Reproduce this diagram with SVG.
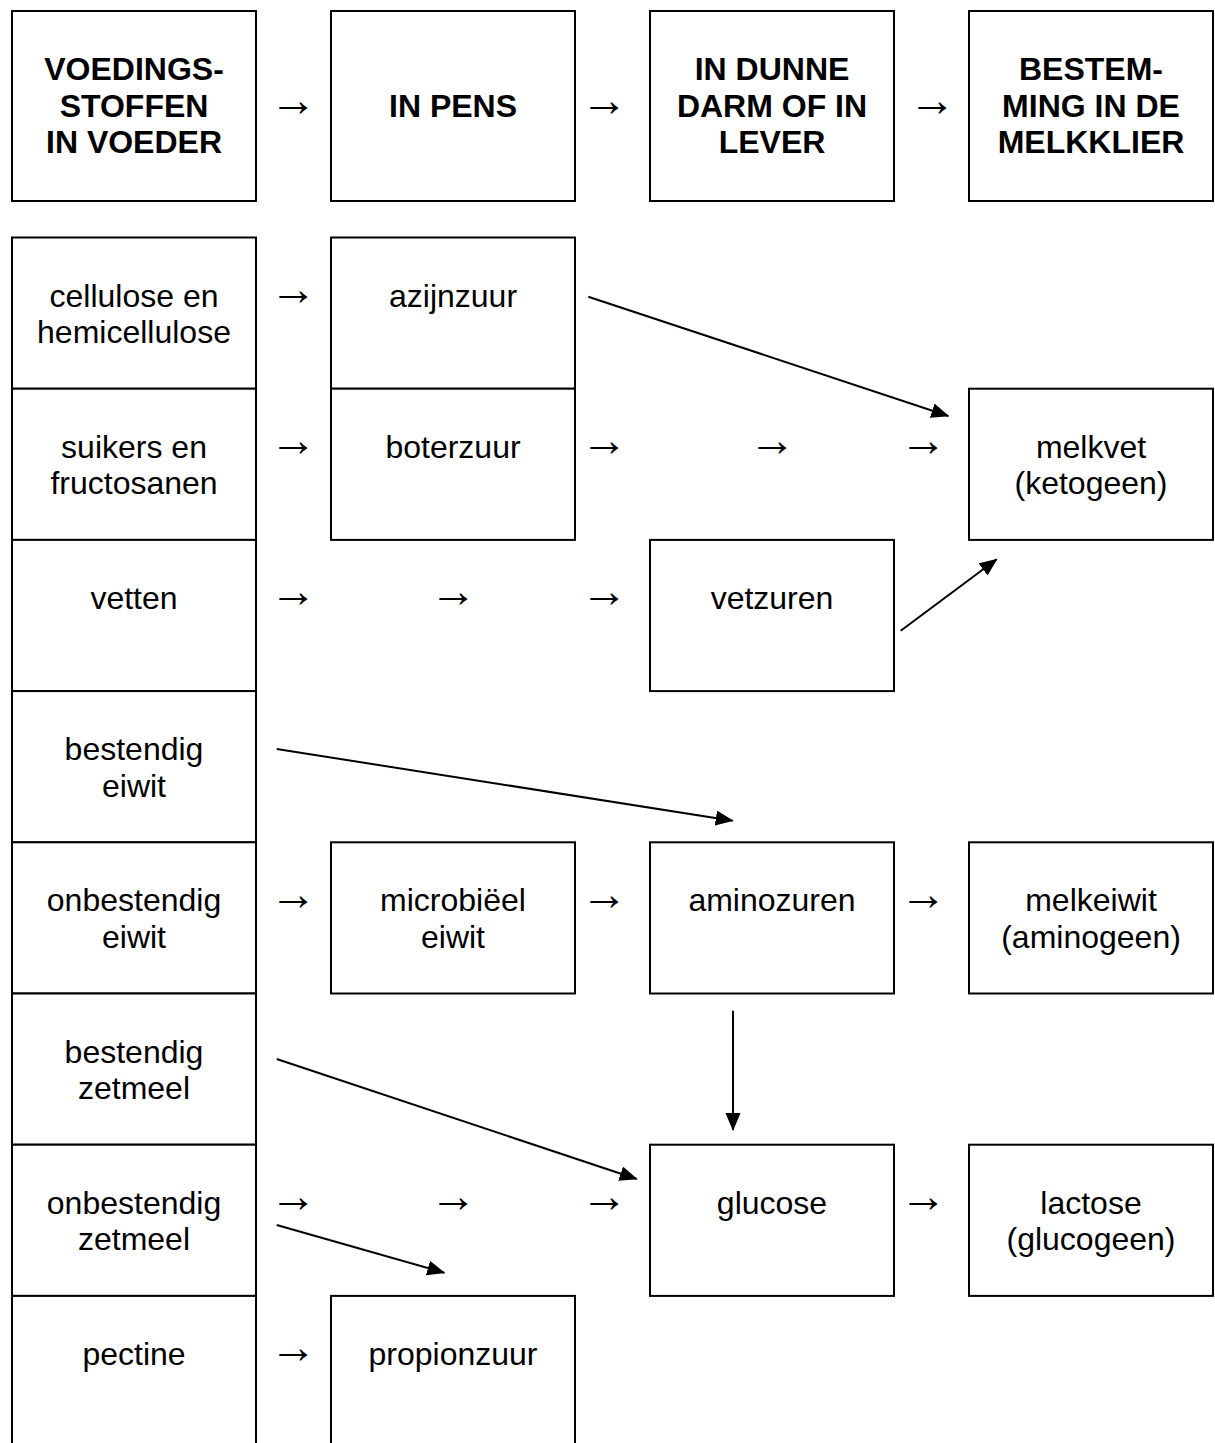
<svg xmlns="http://www.w3.org/2000/svg" width="1215" height="1443" viewBox="0 0 1215 1443">
<style>
.box{fill:#fff;stroke:#000;stroke-width:2}
.t{font-family:"Liberation Sans",Arial,sans-serif;font-size:32px;fill:#000;text-anchor:middle}
.h{font-weight:bold}
.ar{font-family:"Liberation Serif","Times New Roman",serif;font-size:47px;fill:#000;text-anchor:middle}
.con{stroke:#000;stroke-width:2;fill:none;marker-end:url(#head)}
</style>
<defs>
<marker id="head" markerUnits="userSpaceOnUse" markerWidth="19" markerHeight="16" refX="17" refY="7.5" orient="auto">
<path d="M0,0 L18,7.5 L0,15 z" fill="#000"/>
</marker>
</defs>
<rect width="1215" height="1443" fill="#fff"/>

<g id="header">
<g id="h1"><rect class="box" x="12" y="11" width="244" height="190"/>
<text class="t h" x="134" y="80">VOEDINGS-</text><text class="t h" x="134" y="116.5">STOFFEN</text><text class="t h" x="134" y="153">IN VOEDER</text></g>
<g id="h2"><rect class="box" x="331" y="11" width="244" height="190"/>
<text class="t h" x="453" y="116.5">IN PENS</text></g>
<g id="h3"><rect class="box" x="650" y="11" width="244" height="190"/>
<text class="t h" x="772" y="80">IN DUNNE</text><text class="t h" x="772" y="116.5">DARM OF IN</text><text class="t h" x="772" y="153">LEVER</text></g>
<g id="h4"><rect class="box" x="969" y="11" width="244" height="190"/>
<text class="t h" x="1091" y="80">BESTEM-</text><text class="t h" x="1091" y="116.5">MING IN DE</text><text class="t h" x="1091" y="153">MELKKLIER</text></g>
<text class="ar" x="293" y="115.6">→</text><text class="ar" x="604" y="115.6">→</text><text class="ar" x="932" y="115.6">→</text>
</g>

<g id="n-cellulose"><rect class="box" x="12" y="237.5" width="244" height="151.2"/>
<text class="t" x="134" y="306.5">cellulose en</text><text class="t" x="134" y="343.2">hemicellulose</text></g>
<g id="n-suikers"><rect class="box" x="12" y="388.7" width="244" height="151.2"/>
<text class="t" x="134" y="457.7">suikers en</text><text class="t" x="134" y="494.4">fructosanen</text></g>
<g id="n-vetten"><rect class="box" x="12" y="539.9" width="244" height="151.2"/>
<text class="t" x="134" y="608.9">vetten</text></g>
<g id="n-bestendig-eiwit"><rect class="box" x="12" y="691.1" width="244" height="151.2"/>
<text class="t" x="134" y="760.1">bestendig</text><text class="t" x="134" y="796.8">eiwit</text></g>
<g id="n-onbestendig-eiwit"><rect class="box" x="12" y="842.3" width="244" height="151.2"/>
<text class="t" x="134" y="911.3">onbestendig</text><text class="t" x="134" y="948">eiwit</text></g>
<g id="n-bestendig-zetmeel"><rect class="box" x="12" y="993.5" width="244" height="151.2"/>
<text class="t" x="134" y="1062.5">bestendig</text><text class="t" x="134" y="1099.2">zetmeel</text></g>
<g id="n-onbestendig-zetmeel"><rect class="box" x="12" y="1144.7" width="244" height="151.2"/>
<text class="t" x="134" y="1213.7">onbestendig</text><text class="t" x="134" y="1250.4">zetmeel</text></g>
<g id="n-pectine"><rect class="box" x="12" y="1295.9" width="244" height="170"/>
<text class="t" x="134" y="1364.9">pectine</text></g>

<g id="n-azijnzuur"><rect class="box" x="331" y="237.5" width="244" height="151.2"/>
<text class="t" x="453" y="306.5">azijnzuur</text></g>
<g id="n-boterzuur"><rect class="box" x="331" y="388.7" width="244" height="151.2"/>
<text class="t" x="453" y="457.7">boterzuur</text></g>
<g id="n-microbieel"><rect class="box" x="331" y="842.3" width="244" height="151.2"/>
<text class="t" x="453" y="911.3">microbiëel</text><text class="t" x="453" y="948">eiwit</text></g>
<g id="n-propionzuur"><rect class="box" x="331" y="1295.9" width="244" height="170"/>
<text class="t" x="453" y="1364.9">propionzuur</text></g>

<g id="n-vetzuren"><rect class="box" x="650" y="539.9" width="244" height="151.2"/>
<text class="t" x="772" y="608.9">vetzuren</text></g>
<g id="n-aminozuren"><rect class="box" x="650" y="842.3" width="244" height="151.2"/>
<text class="t" x="772" y="911.3">aminozuren</text></g>
<g id="n-glucose"><rect class="box" x="650" y="1144.7" width="244" height="151.2"/>
<text class="t" x="772" y="1213.7">glucose</text></g>

<g id="n-melkvet"><rect class="box" x="969" y="388.7" width="244" height="151.2"/>
<text class="t" x="1091" y="457.7">melkvet</text><text class="t" x="1091" y="494.4">(ketogeen)</text></g>
<g id="n-melkeiwit"><rect class="box" x="969" y="842.3" width="244" height="151.2"/>
<text class="t" x="1091" y="911.3">melkeiwit</text><text class="t" x="1091" y="948">(aminogeen)</text></g>
<g id="n-lactose"><rect class="box" x="969" y="1144.7" width="244" height="151.2"/>
<text class="t" x="1091" y="1213.7">lactose</text><text class="t" x="1091" y="1250.4">(glucogeen)</text></g>

<g id="row-arrows">
<text class="ar" x="293" y="305">→</text>
<text class="ar" x="293" y="456.2">→</text><text class="ar" x="604" y="456.2">→</text><text class="ar" x="772" y="456.2">→</text><text class="ar" x="923" y="456.2">→</text>
<text class="ar" x="293" y="607.4">→</text><text class="ar" x="453" y="607.4">→</text><text class="ar" x="604" y="607.4">→</text>
<text class="ar" x="293" y="909.8">→</text><text class="ar" x="604" y="909.8">→</text><text class="ar" x="923" y="909.8">→</text>
<text class="ar" x="293" y="1212.2">→</text><text class="ar" x="453" y="1212.2">→</text><text class="ar" x="604" y="1212.2">→</text><text class="ar" x="923" y="1212.2">→</text>
<text class="ar" x="293" y="1363.4">→</text>
</g>

<g id="connectors">
<line class="con" x1="588.3" y1="296.7" x2="948.3" y2="416"/>
<line class="con" x1="900.7" y1="630.7" x2="996.7" y2="559.3"/>
<line class="con" x1="276.7" y1="749" x2="732.7" y2="820.7"/>
<line class="con" x1="733" y1="1010.7" x2="733" y2="1130"/>
<line class="con" x1="276.7" y1="1059" x2="636.7" y2="1179"/>
<line class="con" x1="276.7" y1="1225" x2="444.3" y2="1272.7"/>
</g>
</svg>
